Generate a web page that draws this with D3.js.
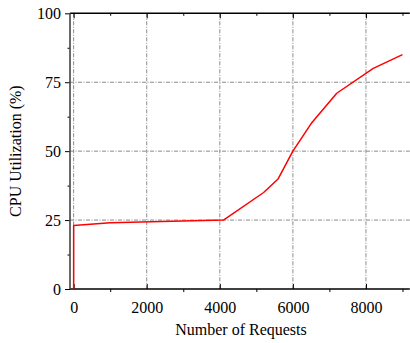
<!DOCTYPE html>
<html>
<head>
<meta charset="utf-8">
<script src="https://cdn.jsdelivr.net/npm/d3@7"></script>
<style>
  body { margin: 0; background: #fff; }
  svg text { font-family: "Liberation Serif", "Times New Roman", serif; fill: #000; }
  .axis path { display: none; }
  .axis line { stroke: #000; stroke-width: 1; }
  .grid { stroke: #8a8a8a; stroke-width: 1; stroke-dasharray: 4,1.5,1,1.5; }
</style>
</head>
<body>
<div id="chart"></div>
<script>
// data
const requests = [0, 0, 1000, 4100, 5200, 5600, 6000, 6500, 7200, 8200, 9000];
const cpuUsage = [0, 23, 24, 25, 35, 40, 50, 60, 71, 80, 85];
const xMajorTicks = [0, 2000, 4000, 6000, 8000];
const xMinorTicks = [1000, 3000, 5000, 7000, 9000];
const yMajorTicks = [0, 25, 50, 75, 100];
const yMinorTicks = [12.5, 37.5, 62.5, 87.5];

const W = 410, H = 343;
const margin = {top: 13.3, right: 0.2, bottom: 54, left: 70};
const width = W - margin.left - margin.right;
const height = H - margin.top - margin.bottom;

const svg = d3.select("#chart")
  .append("svg")
  .attr("width", W)
  .attr("height", H)
  .append("g")
  .attr("transform", "translate(" + margin.left + "," + margin.top + ")");

const x = d3.scaleLinear().domain([-100, 9200]).range([0, width]);
const y = d3.scaleLinear().domain([0, 100]).range([height, 0]);

// grid lines
svg.append("g")
  .selectAll("line")
  .data(xMajorTicks)
  .enter()
  .append("line")
  .attr("class", "grid")
  .attr("x1", d => x(d)).attr("x2", d => x(d))
  .attr("y1", 0).attr("y2", height);

svg.append("g")
  .selectAll("line")
  .data(yMajorTicks.filter(d => d > 0 && d < 100))
  .enter()
  .append("line")
  .attr("class", "grid")
  .attr("x1", 0).attr("x2", width)
  .attr("y1", d => y(d)).attr("y2", d => y(d));

// bottom axis: labelled major ticks inward, minor ticks outward
svg.append("g")
  .attr("class", "axis")
  .attr("transform", "translate(0," + height + ")")
  .call(d3.axisBottom(x).tickValues(xMajorTicks).tickSize(-5).tickPadding(13).tickFormat(d3.format("d")))
  .selectAll("text")
  .style("font-size", "16px");

svg.append("g")
  .attr("class", "axis")
  .attr("transform", "translate(0," + height + ")")
  .call(d3.axisBottom(x).tickValues(xMinorTicks).tickSize(3).tickFormat(""));

// top axis mirrors the ticks inside
svg.append("g")
  .attr("class", "axis")
  .call(d3.axisTop(x).tickValues(xMajorTicks).tickSize(-5).tickFormat(""));

svg.append("g")
  .attr("class", "axis")
  .call(d3.axisTop(x).tickValues(xMinorTicks).tickSize(-2.5).tickFormat(""));

// left axis
svg.append("g")
  .attr("class", "axis")
  .call(d3.axisLeft(y).tickValues(yMajorTicks).tickSize(5).tickPadding(4))
  .selectAll("text")
  .style("font-size", "16px");

svg.append("g")
  .attr("class", "axis")
  .call(d3.axisLeft(y).tickValues(yMinorTicks).tickSize(2.5).tickFormat(""));

// frame
svg.append("line").attr("x1", 0).attr("x2", width).attr("y1", 0).attr("y2", 0)
  .style("stroke", "#000").style("stroke-width", 1.4);
svg.append("line").attr("x1", 0).attr("x2", width).attr("y1", height).attr("y2", height)
  .style("stroke", "#000").style("stroke-width", 1.4);
svg.append("line").attr("x1", 0).attr("x2", 0).attr("y1", 0).attr("y2", height)
  .style("stroke", "#444").style("stroke-width", 1.6);

// series
const line = d3.line()
  .x((d, i) => x(requests[i]))
  .y(d => y(d));

svg.append("path")
  .datum(cpuUsage)
  .attr("d", line)
  .style("fill", "none")
  .style("stroke", "#ff0000")
  .style("stroke-width", 1.5)
  .style("stroke-linejoin", "round");

// axis titles
svg.append("text")
  .attr("text-anchor", "middle")
  .attr("x", 171)
  .attr("y", height + 46)
  .style("font-size", "16px")
  .text("Number of Requests");

svg.append("text")
  .attr("text-anchor", "middle")
  .attr("transform", "rotate(-90)")
  .attr("x", -height / 2)
  .attr("y", -margin.left + 21)
  .style("font-size", "16px")
  .text("CPU Utilization (%)");
</script>
</body>
</html>
